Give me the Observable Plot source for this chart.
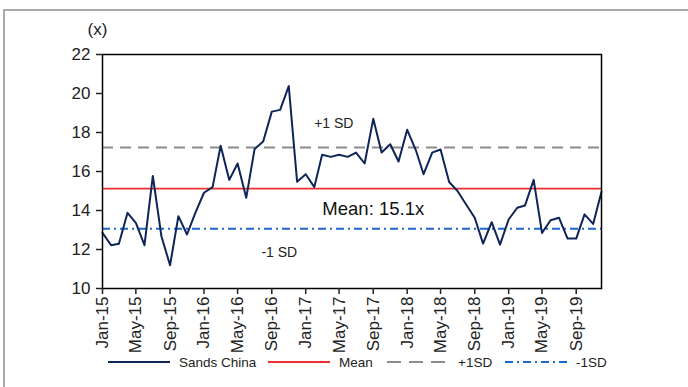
<!DOCTYPE html>
<html><head><meta charset="utf-8">
<script src="https://cdn.jsdelivr.net/npm/d3@7"></script>
<script src="https://cdn.jsdelivr.net/npm/@observablehq/plot@0.6"></script>
<style>
body{margin:0;background:#fff;}
#wrap{position:relative;width:688px;height:387px;overflow:hidden;background:#fff;font-family:"Liberation Sans",Arial,sans-serif;}
#border{position:absolute;left:3px;top:9px;width:720px;height:420px;border:2px solid #a9a9a9;}
#chart{position:absolute;left:0;top:0;}
#legend{position:absolute;top:351px;left:0;width:688px;height:22px;}
.item{position:absolute;top:0;display:flex;align-items:center;height:22px;font-size:13.5px;color:#222;white-space:nowrap;}
.item svg{margin-right:9px;}
</style></head><body>
<div id="wrap"><div id="border"></div><div id="chart"></div><div id="legend"></div></div>
<script>
const months = [
  "Jan-15","Feb-15","Mar-15","Apr-15","May-15","Jun-15","Jul-15","Aug-15","Sep-15","Oct-15","Nov-15","Dec-15",
  "Jan-16","Feb-16","Mar-16","Apr-16","May-16","Jun-16","Jul-16","Aug-16","Sep-16","Oct-16","Nov-16","Dec-16",
  "Jan-17","Feb-17","Mar-17","Apr-17","May-17","Jun-17","Jul-17","Aug-17","Sep-17","Oct-17","Nov-17","Dec-17",
  "Jan-18","Feb-18","Mar-18","Apr-18","May-18","Jun-18","Jul-18","Aug-18","Sep-18","Oct-18","Nov-18","Dec-18",
  "Jan-19","Feb-19","Mar-19","Apr-19","May-19","Jun-19","Jul-19","Aug-19","Sep-19","Oct-19","Nov-19","Dec-19"
];
const sandsChina = [
  12.85, 12.22, 12.30, 13.88, 13.37, 12.22, 15.77, 12.68, 11.19, 13.71, 12.77, 13.88,
  14.91, 15.20, 17.32, 15.57, 16.41, 14.65, 17.15, 17.54, 19.07, 19.16, 20.38, 15.48,
  15.86, 15.20, 16.86, 16.75, 16.86, 16.75, 16.97, 16.41, 18.70, 16.97, 17.40, 16.51,
  18.14, 17.10, 15.86, 16.97, 17.13, 15.46, 15.00, 14.31, 13.63, 12.30, 13.40, 12.25,
  13.54, 14.14, 14.26, 15.57, 12.85, 13.50, 13.63, 12.56, 12.56, 13.80, 13.31, 14.96
];
const meanValue = 15.12;
const plus1SD = 17.23;
const minus1SD = 13.06;
const tickLabels = ["Jan-15","May-15","Sep-15","Jan-16","May-16","Sep-16","Jan-17","May-17","Sep-17","Jan-18","May-18","Sep-18","Jan-19","May-19","Sep-19"];
const yTicks = [10, 12, 14, 16, 18, 20, 22];
const annoLabels = ["+1 SD", "Mean: 15.1x", "-1 SD"];
const annoDates = ["2017-04-12", "2017-09-01", "2016-09-28"];
const annoValues = [18.45, 14.05, 11.85];
const annoBig = [false, true, false];
const seriesNames = ["Sands China", "Mean", "+1SD", "-1SD"];
const seriesColors = ["#0e2558", "#f03030", "#8c8c8c", "#1a6ad0"];
const seriesDash = [null, null, "11,7", "8,4,2,4"];

const FONT = '"Liberation Sans",Arial,sans-serif';
const parse = d3.utcParse("%b-%y");
const data = months.map((m, i) => ({date: parse(m), value: sandsChina[i]}));
const annos = annoLabels.map((t, i) => ({text: t, date: new Date(annoDates[i] + "T00:00Z"), value: annoValues[i], big: annoBig[i]}));

const chart = Plot.plot({
  width: 688, height: 350,
  marginLeft: 102, marginRight: 87, marginTop: 54, marginBottom: 62,
  style: {fontFamily: FONT, fontSize: "17px", color: "#222", background: "transparent", overflow: "visible"},
  x: {type: "utc", domain: [data[0].date, data[data.length - 1].date]},
  y: {domain: [10, 22]},
  marks: [
    Plot.ruleY([meanValue], {stroke: seriesColors[1], strokeWidth: 1.6}),
    Plot.ruleY([plus1SD], {stroke: seriesColors[2], strokeWidth: 2, strokeDasharray: seriesDash[2]}),
    Plot.ruleY([minus1SD], {stroke: seriesColors[3], strokeWidth: 2, strokeDasharray: seriesDash[3]}),
    Plot.lineY(data, {x: "date", y: "value", stroke: seriesColors[0], strokeWidth: 2}),
    Plot.text(annos.filter(d => !d.big), {x: "date", y: "value", text: "text", fontSize: 14, fill: "#222"}),
    Plot.text(annos.filter(d => d.big), {x: "date", y: "value", text: "text", fontSize: 18.5, fill: "#111"}),
    Plot.frame({stroke: "black", strokeWidth: 1.5}),
    Plot.axisY({ticks: yTicks, tickSize: 6, tickPadding: 6, label: null, strokeWidth: 1.5, fontSize: 17}),
    Plot.axisX({ticks: tickLabels.map(parse), tickFormat: d3.utcFormat("%b-%y"), tickRotate: -90, tickSize: 6, tickPadding: 2, label: null, strokeWidth: 1.5, fontSize: 17}),
    Plot.text(["(x)"], {frameAnchor: "top-left", textAnchor: "middle", lineAnchor: "middle", dx: -5, dy: -25, fontSize: 17, fill: "#222"})
  ]
});
document.getElementById("chart").appendChild(chart);

const lefts = [108, 268, 387, 505];
const legend = document.getElementById("legend");
seriesNames.forEach((name, i) => {
  const item = document.createElement("div");
  item.className = "item";
  item.style.left = lefts[i] + "px";
  const dash = seriesDash[i] ? ` stroke-dasharray="${i === 2 ? '14,8' : '8,4,2,4'}"` : "";
  item.innerHTML = `<svg width="62" height="4"><line x1="0" y1="2" x2="62" y2="2" stroke="${seriesColors[i]}" stroke-width="2"${dash}/></svg><span>${name}</span>`;
  legend.appendChild(item);
});
</script>
</body></html>
